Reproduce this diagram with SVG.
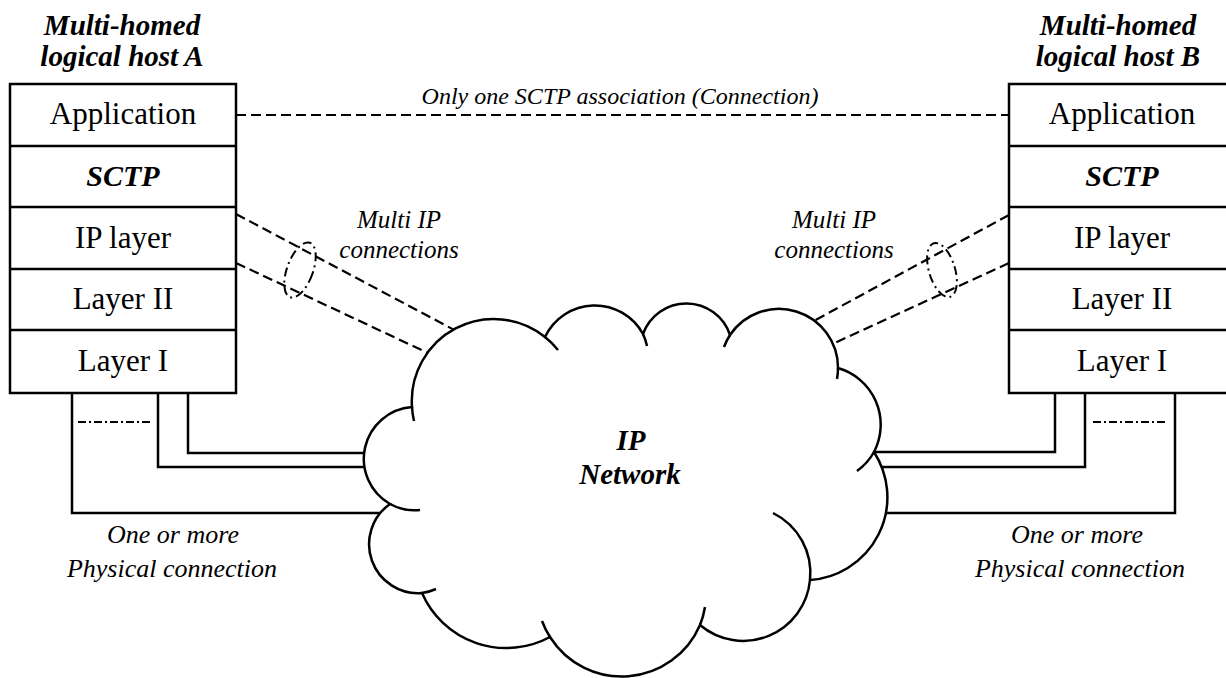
<svg xmlns="http://www.w3.org/2000/svg" width="1226" height="678" viewBox="0 0 1226 678">
  <style>
    .box { fill: #fff; stroke: #000; stroke-width: 2.5; }
    .row { stroke: #000; stroke-width: 2.5; }
    .wire { fill: none; stroke: #000; stroke-width: 2.5; }
    .dash { fill: none; stroke: #000; stroke-width: 2.2; stroke-dasharray: 10 5; }
    .dashdot { fill: none; stroke: #000; stroke-width: 2; stroke-dasharray: 8 3 2 3; }
    .bundle { fill: none; stroke: #000; stroke-width: 2; stroke-dasharray: 9 4 2 4; }
    .cloud { fill: #fff; stroke: #000; stroke-width: 2.5; stroke-linejoin: miter; }
    .tail { fill: none; stroke: #000; stroke-width: 2.5; }
    .layer { font-family: "Liberation Serif", "Times New Roman", serif; font-size: 31px; text-anchor: middle; fill: #000; }
    .proto { font-family: "Liberation Serif", "Times New Roman", serif; font-size: 30px; font-weight: bold; font-style: italic; text-anchor: middle; fill: #000; }
    .title { font-family: "Liberation Serif", "Times New Roman", serif; font-size: 29px; font-weight: bold; font-style: italic; text-anchor: middle; fill: #000; }
    .note { font-family: "Liberation Serif", "Times New Roman", serif; font-size: 24px; font-style: italic; text-anchor: middle; fill: #000; }
    .multi { font-family: "Liberation Serif", "Times New Roman", serif; font-size: 25px; font-style: italic; text-anchor: middle; fill: #000; }
    .phys { font-family: "Liberation Serif", "Times New Roman", serif; font-size: 26px; font-style: italic; text-anchor: middle; fill: #000; }
  </style>

  <!-- links between the hosts and the network -->
  <g id="connectors">
    <!-- single SCTP association between the applications -->
    <line class="dash" x1="236" y1="115" x2="1009" y2="115"/>
    <!-- IP layer links, host A -->
    <line class="dash" x1="236" y1="214" x2="460" y2="333"/>
    <line class="dash" x1="236" y1="263" x2="430" y2="354"/>
    <!-- IP layer links, host B -->
    <line class="dash" x1="1009" y1="215" x2="810" y2="323"/>
    <line class="dash" x1="1009" y1="263" x2="830" y2="345"/>
    <!-- physical links, host A -->
    <polyline class="wire" points="72,393 72,513 380,513"/>
    <polyline class="wire" points="158,393 158,467 372,467"/>
    <polyline class="wire" points="188,393 188,453 372,453"/>
    <line class="dashdot" x1="78" y1="422" x2="150" y2="422"/>
    <!-- physical links, host B -->
    <polyline class="wire" points="1055,393 1055,452 866,452"/>
    <polyline class="wire" points="1085,393 1085,467 872,467"/>
    <polyline class="wire" points="1175,393 1175,513 880,513"/>
    <line class="dashdot" x1="1093" y1="422" x2="1167" y2="422"/>
  </g>

  <!-- bundles of IP connections -->
  <g id="ip-bundles">
    <ellipse class="bundle" cx="300" cy="270" rx="13" ry="29" transform="rotate(20 300 270)"/>
    <ellipse class="bundle" cx="942" cy="270" rx="13" ry="28" transform="rotate(-17 942 270)"/>
  </g>

  <!-- IP network cloud -->
  <g id="ip-network">
    <path class="cloud" d="M412,407 A82,82 0 0 1 545,337 A55,55 0 0 1 643,334 A46,46 0 0 1 730,335 A59,59 0 0 1 838,368 A59,59 0 0 1 874,452 A83,83 0 0 1 810,580 A67,67 0 0 1 700,625 A85,85 0 0 1 550,637 A92,92 0 0 1 422,593 A49,49 0 0 1 390,504 A52,52 0 0 1 412,407 Z"/>
    <path class="tail" d="M545,337 A82,82 0 0 1 558,350"/>
    <path class="tail" d="M414,421 A82,82 0 0 1 412,407"/>
    <path class="tail" d="M643,334 A55,55 0 0 1 647,346"/>
    <path class="tail" d="M724,347 A59,59 0 0 1 730,335"/>
    <path class="tail" d="M838,368 A59,59 0 0 1 837,379"/>
    <path class="tail" d="M874,452 A59,59 0 0 1 857,471"/>
    <path class="tail" d="M773,513 A67,67 0 0 1 810,580"/>
    <path class="tail" d="M705,607 A85,85 0 0 1 700,625"/>
    <path class="tail" d="M550,637 A85,85 0 0 1 542,621"/>
    <path class="tail" d="M436,589 A49,49 0 0 1 422,593"/>
    <path class="tail" d="M420,510 A52,52 0 0 1 390,504"/>
    <text class="title" x="631" y="450">IP</text>
    <text class="title" x="630" y="484">Network</text>
  </g>

  <!-- host A protocol stack -->
  <g id="host-a">
    <text class="title" x="122" y="35">Multi-homed</text>
    <text class="title" x="122" y="66">logical host A</text>
    <rect class="box" x="10" y="84" width="226" height="309"/>
    <line class="row" x1="10" y1="146" x2="236" y2="146"/>
    <line class="row" x1="10" y1="207" x2="236" y2="207"/>
    <line class="row" x1="10" y1="269" x2="236" y2="269"/>
    <line class="row" x1="10" y1="330" x2="236" y2="330"/>
    <text class="layer" x="123" y="124">Application</text>
    <text class="proto" x="123" y="186">SCTP</text>
    <text class="layer" x="123" y="248">IP layer</text>
    <text class="layer" x="123" y="309">Layer II</text>
    <text class="layer" x="123" y="371">Layer I</text>
  </g>

  <!-- host B protocol stack -->
  <g id="host-b">
    <text class="title" x="1118" y="35">Multi-homed</text>
    <text class="title" x="1118" y="66">logical host B</text>
    <rect class="box" x="1009" y="84" width="232" height="309"/>
    <line class="row" x1="1009" y1="146" x2="1241" y2="146"/>
    <line class="row" x1="1009" y1="207" x2="1241" y2="207"/>
    <line class="row" x1="1009" y1="269" x2="1241" y2="269"/>
    <line class="row" x1="1009" y1="330" x2="1241" y2="330"/>
    <text class="layer" x="1122" y="124">Application</text>
    <text class="proto" x="1122" y="186">SCTP</text>
    <text class="layer" x="1122" y="248">IP layer</text>
    <text class="layer" x="1122" y="309">Layer II</text>
    <text class="layer" x="1122" y="371">Layer I</text>
  </g>

  <!-- annotations -->
  <g id="labels">
    <text class="note" x="620" y="104">Only one SCTP association (Connection)</text>
    <text class="multi" x="399" y="228">Multi IP</text>
    <text class="multi" x="399" y="258">connections</text>
    <text class="multi" x="834" y="228">Multi IP</text>
    <text class="multi" x="834" y="258">connections</text>
    <text class="phys" x="173" y="543">One or more</text>
    <text class="phys" x="172" y="577">Physical connection</text>
    <text class="phys" x="1077" y="543">One or more</text>
    <text class="phys" x="1080" y="577">Physical connection</text>
  </g>
</svg>
